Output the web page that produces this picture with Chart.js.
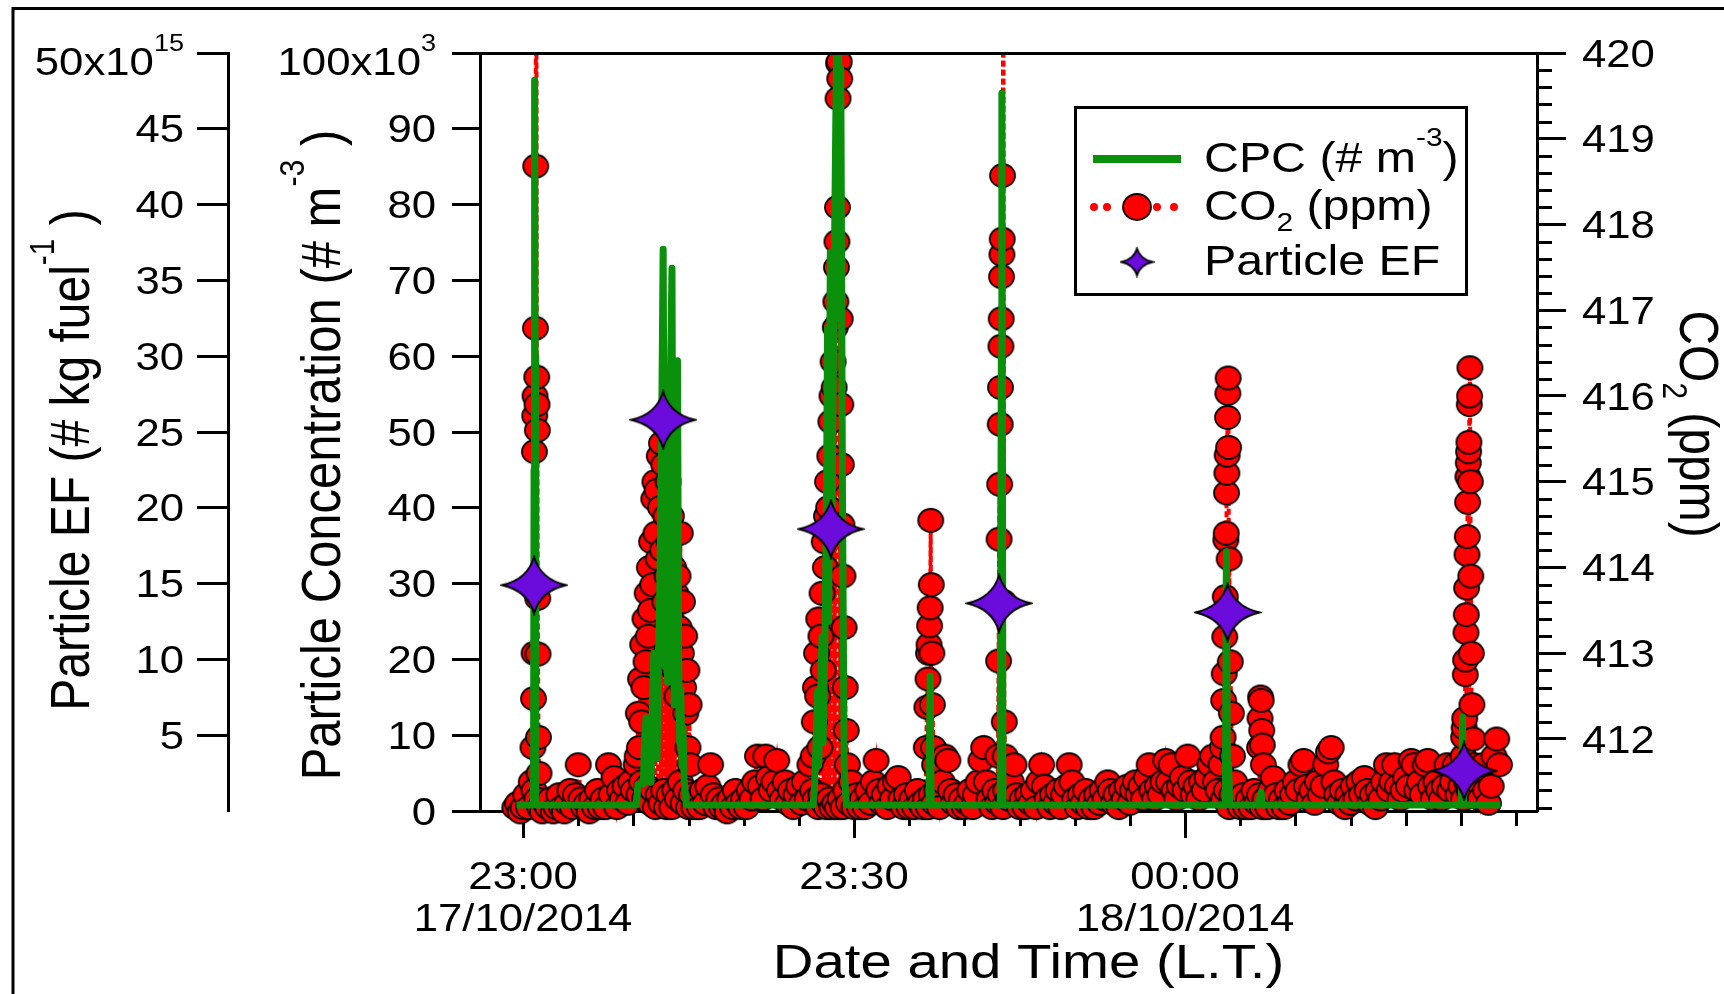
<!DOCTYPE html>
<html>
<head>
<meta charset="utf-8">
<script src="https://cdn.jsdelivr.net/npm/chart.js"></script>
<style>
  html, body { margin: 0; padding: 0; background: #fff; }
  #wrap { width: 1724px; height: 994px; }
</style>
</head>
<body>
<div id="wrap"><canvas id="chart"></canvas></div>
<script>
// time is in minutes after 23:00 on 17/10/2014
const xTickMinutes = [0, 30, 60];
const xTickLabels = [['23:00', '17/10/2014'], ['23:30'], ['00:00', '18/10/2014']];
const xMinorMinutes = [5, 10, 15, 20, 25, 35, 40, 45, 50, 55, 65, 70, 75, 80, 85, 90];
const concTicks = [0, 10000, 20000, 30000, 40000, 50000, 60000, 70000, 80000, 90000, 100000];
const efTicks = [5e15, 10e15, 15e15, 20e15, 25e15, 30e15, 35e15, 40e15, 45e15, 50e15];
const co2Ticks = [412, 413, 414, 415, 416, 417, 418, 419, 420];

// CO2 (ppm) background, one reading every 0.25 min from -0.75 min
const co2BaseStart = -0.75;
const co2BaseStep = 0.25;
const co2Base = [
  411.2, 411.25, 411.15, 411.2, 411.35, 411.2, 411.5, 411.4, 411.3, 411.2, 411.15, 411.25, 411.2, 411.3, 411.15, 411.2, 411.35,
  411.2, 411.15, 411.25, 411.4, 411.2, 411.35, 411.7, 411.3, 411.2, 411.25, 411.15, 411.3, 411.2, 411.4, 411.2, 411.3, 411.2, 411.7, 411.35, 411.55,
  411.2, 411.4, 411.3, 411.45, 411.25, 411.5, 411.4, 411.7, 411.35, 411.5, 411.3, 411.45, 411.25, 411.4, 411.2, 411.35, 411.25, 411.4, 411.2, 411.35,
  411.2, 411.4, 411.3, 411.5, 411.25, 411.4, 411.2, 411.35, 411.2, 411.3, 411.2, 411.4, 411.25, 411.45, 411.7, 411.35, 411.2, 411.3, 411.2, 411.25,
  411.15, 411.3, 411.2, 411.4, 411.25, 411.2, 411.3, 411.2, 411.4, 411.3, 411.5, 411.8, 411.45, 411.3, 411.8, 411.55, 411.4, 411.5, 411.75, 411.4,
  411.3, 411.5, 411.25, 411.4, 411.2, 411.35, 411.45, 411.25, 411.5, 411.3, 411.7, 411.4, 411.3, 411.2, 411.35, 411.25, 411.2, 411.3, 411.2, 411.25,
  411.2, 411.3, 411.2, 411.4, 411.25, 411.5, 411.2, 411.35, 411.2, 411.3, 411.2, 411.4, 411.25, 411.5, 411.75, 411.4, 411.25, 411.35, 411.2, 411.45,
  411.3, 411.5, 411.55, 411.3, 411.2, 411.35, 411.2, 411.3, 411.2, 411.4, 411.25, 411.2, 411.3, 411.2, 411.35, 411.25, 411.4, 411.2, 411.5, 411.8,
  411.75, 411.4, 411.25, 411.35, 411.2, 411.3, 411.2, 411.25, 411.4, 411.2, 411.35, 411.5, 411.75, 411.9, 411.5, 411.3, 411.2, 411.4, 411.25, 411.35,
  411.2, 411.4, 411.3, 411.5, 411.7, 411.35, 411.2, 411.3, 411.2, 411.35, 411.25, 411.4, 411.2, 411.5, 411.7, 411.45, 411.3, 411.2, 411.35, 411.25,
  411.4, 411.2, 411.35, 411.45, 411.7, 411.5, 411.3, 411.2, 411.35, 411.25, 411.4, 411.2, 411.3, 411.2, 411.35, 411.25, 411.4, 411.3, 411.5, 411.4,
  411.25, 411.35, 411.2, 411.4, 411.3, 411.45, 411.25, 411.4, 411.5, 411.35, 411.45, 411.3, 411.55, 411.7, 411.4, 411.3, 411.45, 411.35, 411.5, 411.75,
  411.5, 411.7, 411.4, 411.3, 411.45, 411.55, 411.4, 411.8, 411.5, 411.35, 411.45, 411.3, 411.5, 411.4, 411.55, 411.7, 411.8, 411.5, 411.4, 411.7,
  411.3, 411.4, 411.2, 411.35, 411.5, 411.3, 411.2, 411.35, 411.2, 411.3, 411.2, 411.4, 411.25, 411.35, 411.2, 411.3, 411.2, 411.4, 411.55, 411.35,
  411.2, 411.3, 411.2, 411.4, 411.25, 411.35, 411.5, 411.4, 411.7, 411.75, 411.45, 411.3, 411.4, 411.25, 411.5, 411.35, 411.45, 411.7, 411.85, 411.9,
  411.5, 411.35, 411.25, 411.4, 411.2, 411.35, 411.25, 411.45, 411.3, 411.5, 411.35, 411.55, 411.4, 411.25, 411.35, 411.2, 411.4, 411.3, 411.5, 411.7,
  411.4, 411.5, 411.7, 411.45, 411.3, 411.4, 411.55, 411.45, 411.75, 411.7, 411.4, 411.5, 411.35, 411.7, 411.75, 411.45, 411.3, 411.5, 411.4, 411.3,
  411.45, 411.7, 411.4, 411.5, 411.7, 411.35, 411.45, 411.3, 411.5, 411.4, 411.55, 411.35, 411.5, 411.3, 411.7, 411.4, 411.25, 411.45, 411.8, 412.0,
  411.7
];

// CO2 plumes [minute, ppm]
const co2Peaks = [
  [0.9, 411.9], [0.95, 412.47], [1.0, 413.0], [1.03, 415.35], [1.06, 415.77], [1.09, 416.0], [1.12, 416.79], [1.15, 418.68],
  [1.18, 422.5], [1.21, 421.8], [1.24, 416.22], [1.27, 415.9], [1.3, 415.6], [1.33, 413.64], [1.36, 412.99], [1.4, 412.02], [1.45, 411.6],

  [10.35, 411.8], [10.45, 412.3], [10.55, 411.9], [10.65, 412.7], [10.75, 412.2], [10.85, 413.1], [10.95, 412.6], [11.05, 413.4],
  [11.15, 412.9], [11.25, 413.7], [11.35, 413.2], [11.45, 414.0], [11.55, 413.5], [11.65, 414.3], [11.75, 413.8], [11.85, 414.8],
  [11.95, 415.0], [12.05, 414.4], [12.15, 414.9], [12.25, 414.1], [12.35, 415.3], [12.45, 414.7], [12.55, 415.45], [12.65, 414.2],
  [12.75, 415.2], [12.85, 413.6], [12.95, 414.6], [13.05, 413.9], [13.15, 415.0], [13.25, 414.3], [13.35, 413.4], [13.45, 414.6],
  [13.55, 413.1], [13.65, 414.0], [13.75, 412.8], [13.85, 413.7], [13.95, 412.5], [14.05, 413.9], [14.15, 413.3], [14.25, 414.4],
  [14.35, 413.0], [14.45, 413.6], [14.55, 412.6], [14.65, 413.2], [14.75, 412.3], [14.85, 412.8], [14.95, 411.9], [15.05, 412.4], [15.15, 411.7],

  [26.3, 411.8], [26.4, 412.2], [26.5, 412.6], [26.6, 413.0], [26.7, 412.5], [26.8, 413.4], [26.9, 411.9], [27.0, 413.2],
  [27.1, 413.7], [27.2, 412.8], [27.3, 414.3], [27.4, 414.0], [27.5, 414.6], [27.6, 415.0], [27.7, 414.7], [27.8, 415.3],
  [27.9, 415.7], [28.0, 416.0], [28.1, 416.4], [28.2, 416.1], [28.3, 416.8], [28.35, 417.1], [28.4, 417.5], [28.45, 417.8],
  [28.5, 418.2], [28.55, 419.47], [28.6, 419.88], [28.65, 419.9], [28.7, 419.7], [28.75, 416.9], [28.8, 415.9], [28.85, 415.2],
  [28.9, 414.5], [29.0, 413.9], [29.1, 413.3], [29.2, 412.6], [29.3, 412.1], [29.4, 411.7],

  [36.55, 411.9], [36.6, 412.37], [36.7, 412.7], [36.75, 413.0], [36.8, 413.1], [36.85, 413.32], [36.9, 413.53], [36.95, 414.55],
  [37.0, 413.8], [37.05, 413.0], [37.1, 412.4], [37.2, 411.9], [37.3, 411.7],

  [43.05, 411.8], [43.1, 412.91], [43.15, 414.33], [43.2, 414.97], [43.25, 415.67], [43.28, 416.1], [43.31, 416.58], [43.34, 416.9],
  [43.37, 417.39], [43.4, 417.65], [43.43, 417.83], [43.46, 418.57], [43.5, 422.5], [43.54, 421.5], [43.58, 413.6], [43.62, 412.2], [43.7, 411.8],

  [63.4, 411.9], [63.45, 412.02], [63.5, 412.45], [63.55, 412.76], [63.6, 413.19], [63.65, 413.66], [63.7, 414.32], [63.73, 414.4],
  [63.76, 414.87], [63.79, 415.1], [63.82, 415.31], [63.85, 415.75], [63.88, 416.03], [63.91, 416.21], [63.95, 415.4], [64.0, 414.1],
  [64.05, 413.5], [64.1, 412.9], [64.2, 412.3], [64.3, 411.8],

  [66.75, 411.9], [66.8, 412.24], [66.85, 412.49], [66.9, 412.45], [66.95, 412.1], [67.0, 411.93], [67.1, 411.7],

  [85.2, 411.8], [85.25, 412.02], [85.3, 412.13], [85.35, 412.24], [85.4, 412.75], [85.43, 412.92], [85.46, 413.24], [85.49, 413.45],
  [85.52, 413.76], [85.55, 414.15], [85.58, 414.36], [85.61, 414.76], [85.64, 415.06], [85.67, 415.22], [85.7, 415.35], [85.73, 415.46],
  [85.76, 415.9], [85.79, 416.0], [85.82, 416.33], [85.86, 415.0], [85.9, 413.9], [85.95, 413.0], [86.0, 412.4], [86.1, 412.0], [86.2, 411.7]
];

// CPC particle concentration [minute, # m^-3]
const cpcPoints = [
  [-0.6, 800], [0.95, 800], [1.0, 45000], [1.05, 96400], [1.1, 60000], [1.15, 1200], [1.25, 800],
  [10.3, 800], [10.4, 3500], [10.9, 3600], [11.0, 9000], [11.15, 12300], [11.3, 4000], [11.45, 9500], [11.6, 3800],
  [11.75, 15000], [11.85, 20800], [11.95, 9000], [12.05, 19500], [12.15, 7000], [12.25, 18000], [12.4, 30000], [12.55, 48000],
  [12.7, 74100], [12.8, 38000], [12.9, 19000], [13.0, 33000], [13.1, 17000], [13.2, 41000], [13.35, 56000], [13.5, 71600],
  [13.6, 28000], [13.7, 14000], [13.8, 27000], [13.9, 44000], [14.0, 59400], [14.1, 21000], [14.2, 9000], [14.3, 16000],
  [14.4, 6000], [14.5, 11000], [14.6, 4000], [14.7, 2500], [14.8, 800],
  [26.3, 800], [26.4, 2500], [26.55, 9000], [26.7, 15800], [26.8, 6000], [26.95, 14000], [27.1, 23000], [27.2, 9000],
  [27.35, 21000], [27.5, 40000], [27.6, 63700], [27.7, 25000], [27.85, 73700], [28.0, 38000], [28.15, 62000], [28.3, 84000],
  [28.45, 106000], [28.6, 103000], [28.7, 65000], [28.8, 98000], [28.95, 42000], [29.1, 6000], [29.3, 800],
  [36.8, 800], [36.9, 17800], [37.0, 800],
  [43.25, 800], [43.35, 60000], [43.4, 94700], [43.5, 800],
  [63.65, 800], [63.75, 34200], [63.85, 900], [63.95, 6300], [64.05, 800],
  [66.7, 800], [66.8, 2000], [66.9, 2500], [67.0, 800],
  [85.05, 800], [85.15, 12400], [85.25, 800],
  [88.6, 800]
];

// particle emission factors (# kg fuel^-1)
const efMinutes = [1.0, 12.7, 27.9, 43.15, 63.85, 85.3];
const efValues = [14.9e15, 25.8e15, 18.6e15, 13.7e15, 13.1e15, 2.65e15];

const FONT = '"Liberation Sans", Arial, sans-serif';
const SX = 1.15; // the original figure is a little wider than tall
const GREEN = '#0a900a';
const RED = '#ff0000';
const PURPLE = '#6b0bdc';

function font(size) { return size + 'px ' + FONT; }

// parts: [text, size factor, baseline shift in em]
function rich(ctx, x, y, parts, size, align, angle) {
  ctx.save();
  ctx.translate(x, y);
  ctx.scale(SX, 1);
  if (angle) ctx.rotate(angle);
  ctx.fillStyle = '#000';
  ctx.textBaseline = 'alphabetic';
  ctx.textAlign = 'left';
  let total = 0;
  const widths = parts.map(p => {
    ctx.font = font(size * p[1]);
    const w = ctx.measureText(p[0]).width;
    total += w;
    return w;
  });
  let cx = align === 'right' ? -total : align === 'center' ? -total / 2 : 0;
  parts.forEach((p, i) => {
    ctx.font = font(size * p[1]);
    ctx.fillText(p[0], cx, p[2] * size);
    cx += widths[i];
  });
  ctx.restore();
}

function makeEllipse(w, h, fill) {
  const c = document.createElement('canvas');
  c.width = w + 4; c.height = h + 4;
  const g = c.getContext('2d');
  g.beginPath();
  g.ellipse(c.width / 2, c.height / 2, w / 2, h / 2, 0, 0, Math.PI * 2);
  g.fillStyle = fill; g.fill();
  g.lineWidth = 1.8; g.strokeStyle = '#000'; g.stroke();
  return c;
}

function makeStar(w, h, fill) {
  const c = document.createElement('canvas');
  c.width = w + 4; c.height = h + 4;
  const g = c.getContext('2d');
  const cx = c.width / 2, cy = c.height / 2, rx = w / 2, ry = h / 2, k = 0.2;
  g.beginPath();
  g.moveTo(cx, cy - ry);
  g.quadraticCurveTo(cx + rx * k, cy - ry * k, cx + rx, cy);
  g.quadraticCurveTo(cx + rx * k, cy + ry * k, cx, cy + ry);
  g.quadraticCurveTo(cx - rx * k, cy + ry * k, cx - rx, cy);
  g.quadraticCurveTo(cx - rx * k, cy - ry * k, cx, cy - ry);
  g.closePath();
  g.fillStyle = fill; g.fill();
  g.lineWidth = 1.8; g.strokeStyle = '#000'; g.stroke();
  return c;
}

const dot = makeEllipse(25, 23, RED);
const star = makeStar(64, 57, PURPLE);
const legendDot = makeEllipse(28, 26, RED);
const legendStar = makeStar(31, 27, PURPLE);

const co2Data = co2Base.map((v, i) => ({ x: co2BaseStart + i * co2BaseStep, y: v }))
  .concat(co2Peaks.map(p => ({ x: p[0], y: p[1] })))
  .sort((a, b) => a.x - b.x);
const cpcData = cpcPoints.map(p => ({ x: p[0], y: p[1] }));
const efData = efMinutes.map((m, i) => ({ x: m, y: efValues[i] }));

const decorations = {
  id: 'decorations',
  beforeDatasetsDraw(chart) {
    const ctx = chart.ctx;
    const xs = chart.scales.x, yr = chart.scales.yCO2;
    ctx.save();
    ctx.strokeStyle = '#000';
    ctx.lineWidth = 3;
    ctx.beginPath();
    xMinorMinutes.forEach(m => {
      const px = Math.round(xs.getPixelForValue(m)) + 0.5;
      ctx.moveTo(px, xs.top);
      ctx.lineTo(px, xs.top + 15);
    });
    for (let i = 1; ; i++) {
      const v = Math.round((yr.min + 0.04) * 5) / 5 + (i - 1) * 0.2;
      if (v > yr.max + 1e-6) break;
      if (Math.abs(v - Math.round(v)) < 1e-6 || v < yr.min) continue;
      const py = Math.round(yr.getPixelForValue(v)) + 0.5;
      ctx.moveTo(yr.left, py);
      ctx.lineTo(yr.left + 15, py);
    }
    ctx.stroke();
    ctx.restore();
  },
  afterDraw(chart) {
    const ctx = chart.ctx;
    const ca = chart.chartArea;
    const xs = chart.scales.x, yc = chart.scales.y, ye = chart.scales.yEF, yr = chart.scales.yCO2;
    ctx.save();
    ctx.strokeStyle = '#000';
    ctx.lineWidth = 3;
    // outer frame and top edge of the plot
    ctx.beginPath();
    ctx.moveTo(13, 994); ctx.lineTo(13, 8.5); ctx.lineTo(1724, 8.5);
    ctx.moveTo(ca.left, Math.round(ca.top) + 0.5); ctx.lineTo(ca.right, Math.round(ca.top) + 0.5);
    ctx.stroke();
    ctx.restore();

    const T = 38, half = 0.358 * T;
    concTicks.forEach((v, i) => {
      const py = yc.getPixelForValue(v);
      if (i === concTicks.length - 1) rich(ctx, yc.right - 44, py + 22, [[(v / 1000) + 'x10', 1, 0], ['3', 0.62, -0.63]], T, 'right');
      else rich(ctx, yc.right - 44, py + half, [[String(v / 1000), 1, 0]], T, 'right');
    });
    efTicks.forEach((v, i) => {
      const py = ye.getPixelForValue(v);
      if (i === efTicks.length - 1) rich(ctx, ye.right - 44, py + 22, [[(v / 1e15) + 'x10', 1, 0], ['15', 0.62, -0.63]], T, 'right');
      else rich(ctx, ye.right - 44, py + half, [[String(v / 1e15), 1, 0]], T, 'right');
    });
    co2Ticks.forEach(v => {
      rich(ctx, yr.left + 45, yr.getPixelForValue(v) + half, [[String(v), 1, 0]], T, 'left');
    });
    xTickMinutes.forEach((m, i) => {
      const px = xs.getPixelForValue(m);
      xTickLabels[i].forEach((line, j) => rich(ctx, px, xs.top + 78 + j * 42, [[line, 1, 0]], T, 'center'));
    });

    // axis titles
    rich(ctx, (ca.left + ca.right) / 2 + 20, 978, [['Date and Time (L.T.)', 1, 0]], 49, 'center');
    rich(ctx, ye.left + 89, 460, [['Particle EF (# kg fuel', 1, 0], ['-1', 0.62, -0.63], [' )', 1, 0]], 48, 'center', -Math.PI / 2);
    rich(ctx, yc.left + 112, 455, [['Particle Concentration (# m', 1, 0], ['-3', 0.62, -0.63], [' )', 1, 0]], 49, 'center', -Math.PI / 2);
    rich(ctx, yr.left + 143, 424, [['CO', 1, 0], ['2', 0.62, 0.3], [' (ppm)', 1, 0]], 48, 'center', Math.PI / 2);

    // legend
    const lx = ca.left + 595, ly = ca.top + 54, lw = 391, lh = 187;
    ctx.save();
    ctx.fillStyle = '#fff';
    ctx.fillRect(lx, ly, lw, lh);
    ctx.strokeStyle = '#000';
    ctx.lineWidth = 3;
    ctx.strokeRect(lx + 0.5, ly + 0.5, lw, lh);
    ctx.strokeStyle = GREEN;
    ctx.lineWidth = 8;
    ctx.beginPath();
    ctx.moveTo(lx + 18, ly + 52); ctx.lineTo(lx + 106, ly + 52);
    ctx.stroke();
    ctx.fillStyle = RED;
    [lx + 19, lx + 32, lx + 82, lx + 99].forEach(px => {
      ctx.beginPath(); ctx.arc(px, ly + 100, 4, 0, Math.PI * 2); ctx.fill();
    });
    ctx.drawImage(legendDot, lx + 62 - legendDot.width / 2, ly + 100 - legendDot.height / 2);
    ctx.drawImage(legendStar, lx + 62 - legendStar.width / 2, ly + 155 - legendStar.height / 2);
    ctx.restore();
    const L = 42, tx = lx + 129;
    rich(ctx, tx, ly + 65, [['CPC (# m', 1, 0], ['-3', 0.62, -0.63], [')', 1, 0]], L, 'left');
    rich(ctx, tx, ly + 113, [['CO', 1, 0], ['2', 0.62, 0.26], [' (ppm)', 1, 0]], L, 'left');
    rich(ctx, tx, ly + 168, [['Particle EF', 1, 0]], L, 'left');
  }
};

const axisGrid = len => ({ drawOnChartArea: false, drawTicks: true, tickLength: len, tickWidth: 3, tickColor: '#000' });
const axisBorder = { display: true, width: 3, color: '#000' };

new Chart(document.getElementById('chart'), {
  type: 'scatter',
  data: {
    datasets: [
      {
        label: 'CO2 (ppm)', data: co2Data, yAxisID: 'yCO2', order: 3,
        showLine: true, borderColor: RED, borderWidth: 4, borderDash: [6, 3],
        pointStyle: dot, pointRadius: 12, clip: { left: 20, right: 20, top: 0, bottom: 20 }
      },
      {
        label: 'CPC (# m-3)', data: cpcData, yAxisID: 'y', order: 2,
        showLine: true, borderColor: GREEN, borderWidth: 7, borderJoinStyle: 'round',
        pointRadius: 0
      },
      {
        label: 'Particle EF', data: efData, yAxisID: 'yEF', order: 1,
        showLine: false, pointStyle: star, pointRadius: 30, clip: false
      }
    ]
  },
  options: {
    responsive: true,
    maintainAspectRatio: false,
    animation: false,
    events: [],
    layout: { padding: { top: 53, left: 0, right: 0, bottom: 0 } },
    plugins: { legend: { display: false }, tooltip: { enabled: false } },
    scales: {
      x: {
        type: 'linear', position: 'bottom', min: -3.9, max: 91.9,
        afterBuildTicks: s => { s.ticks = xTickMinutes.map(v => ({ value: v })); },
        afterFit: s => { s.height = 183; },
        ticks: { display: false }, grid: axisGrid(27), border: axisBorder
      },
      yEF: {
        type: 'linear', position: 'left', weight: 2, min: 0, max: 50e15,
        afterBuildTicks: s => { s.ticks = efTicks.map(v => ({ value: v })); },
        afterFit: s => { s.width = 228; },
        ticks: { display: false }, grid: axisGrid(31), border: axisBorder
      },
      y: {
        type: 'linear', position: 'left', weight: 1, min: 0, max: 100000,
        afterBuildTicks: s => { s.ticks = concTicks.map(v => ({ value: v })); },
        afterFit: s => { s.width = 252; },
        ticks: { display: false }, grid: axisGrid(28), border: axisBorder
      },
      yCO2: {
        type: 'linear', position: 'right', min: 411.16, max: 420,
        afterBuildTicks: s => { s.ticks = co2Ticks.map(v => ({ value: v })); },
        afterFit: s => { s.width = 187; },
        ticks: { display: false }, grid: axisGrid(29), border: axisBorder
      }
    }
  },
  plugins: [decorations]
});
</script>
</body>
</html>
